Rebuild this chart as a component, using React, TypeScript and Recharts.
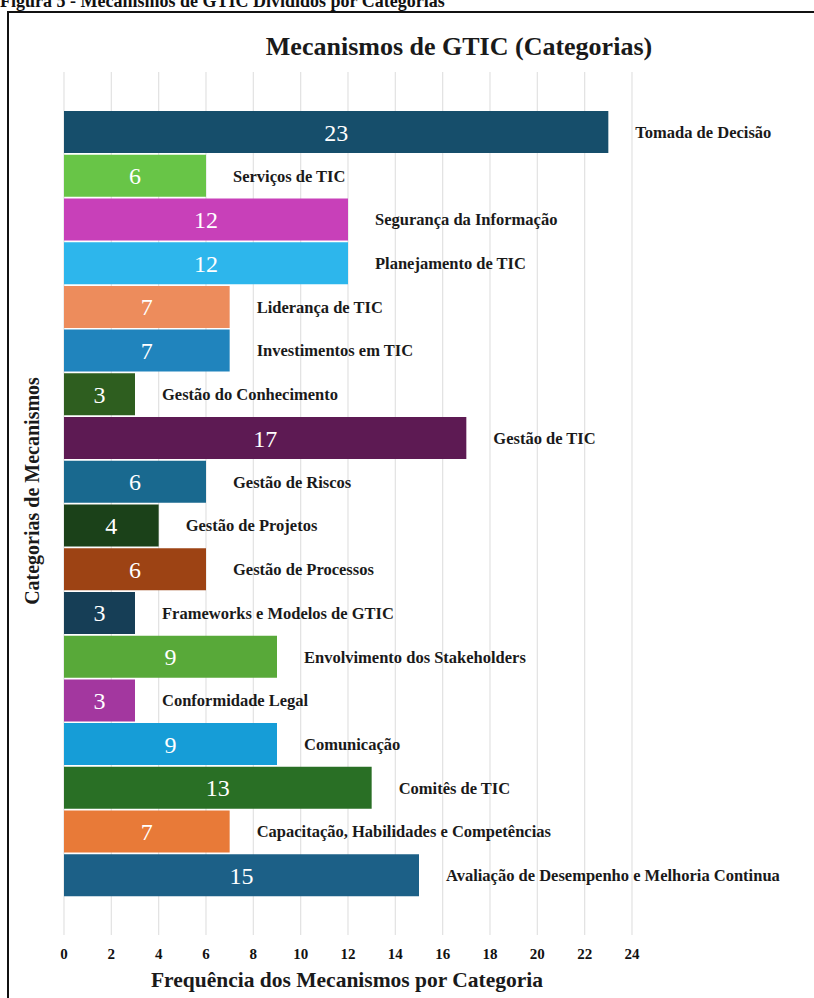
import React from 'react';
import { BarChart, Bar, XAxis, YAxis, CartesianGrid, LabelList, Cell } from 'recharts';

const categories = [
  'Tomada de Decisão',
  'Serviços de TIC',
  'Segurança da Informação',
  'Planejamento de TIC',
  'Liderança de TIC',
  'Investimentos  em TIC',
  'Gestão do Conhecimento',
  'Gestão de TIC',
  'Gestão de Riscos',
  'Gestão de Projetos',
  'Gestão de Processos',
  'Frameworks  e Modelos de GTIC',
  'Envolvimento dos Stakeholders',
  'Conformidade Legal',
  'Comunicação',
  'Comitês de TIC',
  'Capacitação, Habilidades e Competências',
  'Avaliação de Desempenho e Melhoria Continua',
];

const values = [23, 6, 12, 12, 7, 7, 3, 17, 6, 4, 6, 3, 9, 3, 9, 13, 7, 15];

const colors = [
  '#164e6b', '#68c547', '#c840b9', '#2db6ec', '#ed8c5c', '#2084bd',
  '#2e5e1f', '#5d1a53', '#19698f', '#1b4119', '#9d4314', '#163e56',
  '#58a939', '#a3379f', '#169dd7', '#296f25', '#e87a38', '#1c6087',
];

const xTicks = [0, 2, 4, 6, 8, 10, 12, 14, 16, 18, 20, 22, 24];

const data = categories.map((name, i) => ({ name, value: values[i] }));

const serif = '"Liberation Serif", "Times New Roman", serif';

export default function App() {
  return (
    <div style={{ position: 'absolute', left: 0, top: 0, width: 814, height: 998, background: '#fff', overflow: 'hidden' }}>
      <div style={{ position: 'absolute', left: 7, top: 11, width: 830, height: 1010, border: '2px solid #111', boxSizing: 'border-box' }} />
      <BarChart
        width={814}
        height={998}
        data={data}
        layout="vertical"
        margin={{ top: 72, right: 182, left: 64, bottom: 33 }}
        barCategoryGap={1}
        style={{ position: 'absolute', left: 0, top: 0 }}
      >
        <CartesianGrid horizontal={false} stroke="#e2e2e2" strokeWidth={1.2} />
        <XAxis
          type="number"
          domain={[0, 24]}
          ticks={xTicks}
          axisLine={false}
          tickLine={false}
          height={30}
          tickMargin={7}
          interval={0}
          tick={{ fontSize: 15, fontWeight: 'bold', fill: '#111', fontFamily: serif }}
        />
        <YAxis type="category" dataKey="name" hide padding={{ top: 38, bottom: 38 }} />
        <Bar dataKey="value" isAnimationActive={false}>
          {data.map((d, i) => (
            <Cell key={d.name} fill={colors[i]} />
          ))}
          <LabelList dataKey="value" position="center" fill="#ffffff" fontSize={24} fontFamily={serif} />
          <LabelList dataKey="name" position="right" offset={27} fill="#1a1a1a" fontSize={16.5} fontWeight="bold" fontFamily={serif} />
        </Bar>
      </BarChart>
      <svg width={814} height={998} style={{ position: 'absolute', left: 0, top: 0, pointerEvents: 'none' }}>
        <text x={0} y={7} fontSize={18} fontWeight="bold" fontFamily={serif} fill="#111">
          Figura 5 - Mecanismos de GTIC Divididos por Categorias
        </text>
        <text x={459} y={55} textAnchor="middle" fontSize={26} fontWeight="bold" fontFamily={serif} fill="#1a1a1a">
          Mecanismos de GTIC (Categorias)
        </text>
        <text x={347} y={987} textAnchor="middle" fontSize={21.5} fontWeight="bold" fontFamily={serif} fill="#1a1a1a">
          Frequência dos Mecanismos por Categoria
        </text>
        <text
          x={32}
          y={491}
          textAnchor="middle"
          dominantBaseline="central"
          transform="rotate(-90 32 491)"
          fontSize={20}
          fontWeight="bold"
          fontFamily={serif}
          fill="#1a1a1a"
        >
          Categorias de Mecanismos
        </text>
      </svg>
    </div>
  );
}
